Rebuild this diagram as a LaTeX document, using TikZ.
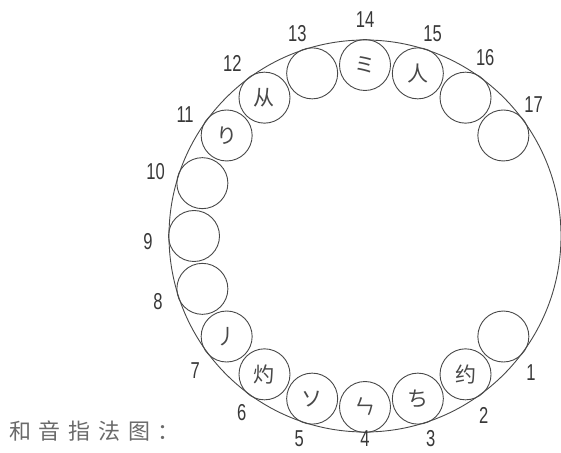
\documentclass[tikz,border=0pt]{standalone}
\usepackage{fontspec}
\usepackage{tikz}
\usetikzlibrary{positioning,calc}
\newfontfamily\cjk{Noto Sans CJK SC}
\newfontfamily\cjkwide{Noto Sans CJK SC}[LetterSpace=35]
\newfontfamily\numfont{Liberation Sans}[FakeStretch=0.72]
\definecolor{inkline}{HTML}{484848}
\definecolor{inknum}{HTML}{383838}
\definecolor{inkcap}{HTML}{6A6A6A}
\tikzset{
  ring/.style={circle, draw=inkline, line width=0.9pt, minimum size=392pt, inner sep=0pt},
  hole/.style={circle, draw=inkline, line width=0.9pt, minimum size=51pt, inner sep=0pt,
               font=\cjk\fontsize{21}{21}\selectfont, text=inkline},
  holenum/.style={inner sep=0pt, font=\numfont\fontsize{23}{23}\selectfont, text=inknum},
}

\begin{document}
\begin{tikzpicture}[x=1pt, y=1pt]
  \useasboundingbox (0,0) rectangle (561,452);
  \node[ring] (wheel) at (365,216) {};
  % holes: number / hole angle / label angle / label radius / sign
  \foreach \n/\a/\b/\r/\t in {1/324/320.5/215/{}, 2/306/303.5/215/约, 3/288/288/213/ち,
      4/270/270/203/ㄣ, 5/252/252/213/ソ, 6/234/235/215/灼, 7/216/218.5/217/丿,
      8/198/197.5/217/{}, 9/180/181.5/217/{}, 10/162/163/219/{}, 11/144/146/217/り,
      12/126/127.5/218/从, 13/108/108.5/213/{}, 14/90/90/216/ミ, 15/72/71.5/213/人,
      16/54/56/215/{}, 17/36/38/214/{}}{
    \node[hole] (h\n) at ($(wheel.center)+(\a:171)$) {\t};
    \node[holenum] (n\n) at ($(wheel.center)+(\b:\r)$) {\n};
  }
  \node[anchor=west, inner sep=0pt, text=inkcap, font=\cjkwide\fontsize{22}{22}\selectfont]
    (title) at (9,21) {和音指法图：};
\end{tikzpicture}
\end{document}
